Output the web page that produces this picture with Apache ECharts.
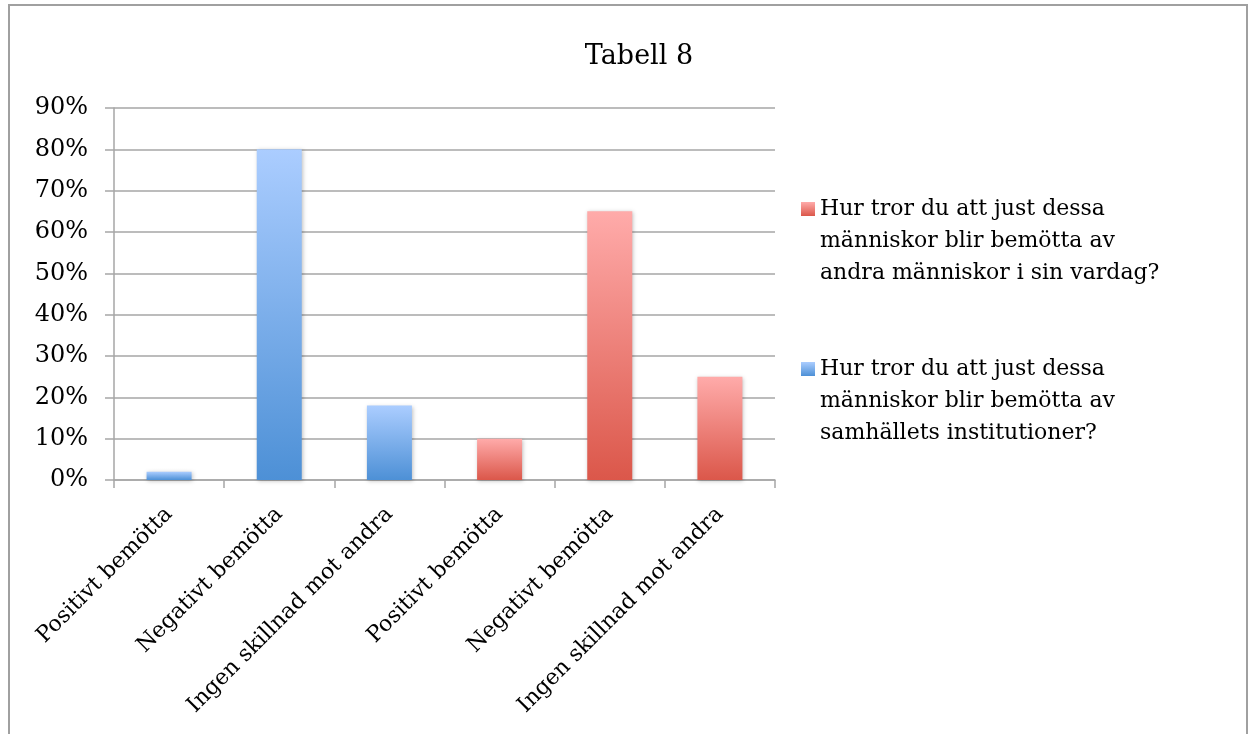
<!DOCTYPE html>
<html>
<head>
<meta charset="utf-8">
<script src="https://cdn.jsdelivr.net/npm/echarts@6/dist/echarts.min.js"></script>
<style>html,body{margin:0;padding:0;background:#fff}#c{width:1256px;height:734px}</style>
</head>
<body>
<div id="c"></div>
<script>
const titleText = 'Tabell 8';
const categories = ['Positivt bemötta', 'Negativt bemötta', 'Ingen skillnad mot andra', 'Positivt bemötta', 'Negativt bemötta', 'Ingen skillnad mot andra'];
const seriesRedName = 'Hur tror du att just dessa människor blir bemötta av andra människor i sin vardag?';
const seriesBlueName = 'Hur tror du att just dessa människor blir bemötta av samhällets institutioner?';
const blueValues = [2, 80, 18, '-', '-', '-'];
const redValues = ['-', '-', '-', 10, 65, 25];
const legendLines = {};
legendLines[seriesRedName] = 'Hur tror du att just dessa\nmänniskor blir bemötta av\nandra människor i sin vardag?';
legendLines[seriesBlueName] = 'Hur tror du att just dessa\nmänniskor blir bemötta av\nsamhällets institutioner?';

const FONT = 'DejaVu Serif';
const grad = (top, bottom, y0, y1) => new echarts.graphic.LinearGradient(0, y0 || 0, 0, y1 === undefined ? 1 : y1, [{offset: 0, color: top}, {offset: 1, color: bottom}]);
const blueFill = grad('#abcdff', '#4d90d6');
const redFill = grad('#ffabaa', '#db574a');
// legend marker: square aligned with first text line inside a 14x96 box
const legendIcon = 'path://M0,0L0.01,0L0.01,0.01Z M0,9L14,9L14,23L0,23Z M0,96L0.01,96L0.01,95.99Z';
const blueIconFill = grad('#abcdff', '#4d90d6', 9 / 96, 23 / 96);
const redIconFill = grad('#ffabaa', '#db574a', 9 / 96, 23 / 96);

const chart = echarts.init(document.getElementById('c'), null, {renderer: 'canvas'});
chart.setOption({
  animation: false,
  backgroundColor: '#ffffff',
  title: {
    text: titleText,
    left: 634, top: 38,
    textAlign: 'center',
    textStyle: {fontFamily: FONT, fontSize: 27, fontWeight: 'normal', color: '#000'}
  },
  graphic: [{
    type: 'rect', shape: {x: 9, y: 5, width: 1238, height: 760},
    style: {fill: 'none', stroke: '#a0a0a0', lineWidth: 2}, silent: true, z: -1
  }],
  legend: {
    orient: 'vertical',
    left: 801, top: 193,
    padding: 0,
    itemGap: 64,
    itemWidth: 14, itemHeight: 96,
    data: [
      {name: seriesRedName, icon: legendIcon, itemStyle: {color: redIconFill}},
      {name: seriesBlueName, icon: legendIcon, itemStyle: {color: blueIconFill}}
    ],
    formatter: n => legendLines[n],
    textStyle: {fontFamily: FONT, fontSize: 22, lineHeight: 32, color: '#000'}
  },
  grid: {left: 114, right: 481, top: 108, bottom: 254, containLabel: false},
  xAxis: {
    type: 'category',
    data: categories,
    axisLine: {lineStyle: {color: '#a6a6a6', width: 1.5}},
    axisTick: {show: true, alignWithLabel: false, length: 8, lineStyle: {color: '#a6a6a6', width: 1.5}},
    axisLabel: {rotate: 45, interval: 0, margin: 31, fontFamily: FONT, fontSize: 22, color: '#000'}
  },
  yAxis: {
    type: 'value',
    min: 0, max: 90, interval: 10,
    axisLine: {show: true, lineStyle: {color: '#a6a6a6', width: 1.5}},
    axisTick: {show: true, length: 9, lineStyle: {color: '#a6a6a6', width: 1.5}},
    splitLine: {lineStyle: {color: '#a6a6a6', width: 1.5}},
    axisLabel: {formatter: '{value}%', margin: 26, fontFamily: FONT, fontSize: 24, color: '#000'}
  },
  series: [
    {
      name: seriesBlueName, type: 'bar', stack: 'all', data: blueValues, barWidth: 45,
      itemStyle: {color: blueFill, shadowBlur: 4, shadowColor: 'rgba(0,0,0,0.25)', shadowOffsetX: 1, shadowOffsetY: 1}
    },
    {
      name: seriesRedName, type: 'bar', stack: 'all', data: redValues, barWidth: 45,
      itemStyle: {color: redFill, shadowBlur: 4, shadowColor: 'rgba(0,0,0,0.25)', shadowOffsetX: 1, shadowOffsetY: 1}
    }
  ]
});
</script>
</body>
</html>
